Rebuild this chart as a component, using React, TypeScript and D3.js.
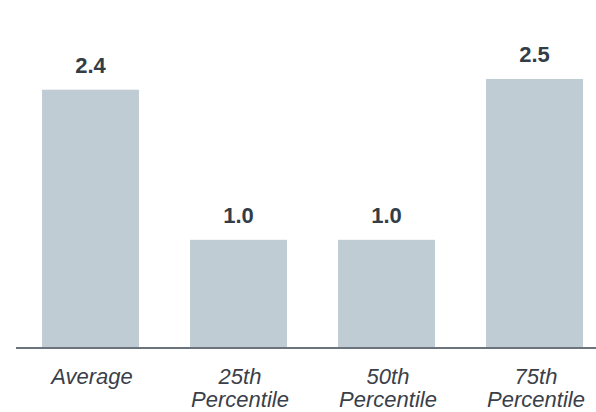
import React from "react";
import * as d3 from "d3";

const categories = ["Average", "25th Percentile", "50th Percentile", "75th Percentile"];
const categoryLines = [["Average"], ["25th", "Percentile"], ["50th", "Percentile"], ["75th", "Percentile"]];
const values = [2.4, 1.0, 1.0, 2.5];
const valueLabels = ["2.4", "1.0", "1.0", "2.5"];

const W = 596;
const H = 412;

export default function App() {
  const x = d3
    .scaleBand<string>()
    .domain(categories)
    .range([16.5, 608.5])
    .paddingInner(0.345)
    .paddingOuter(0.1725);
  const y = d3.scaleLinear().domain([0, 2.5]).range([347, 79]);
  const font = "Arial, 'Liberation Sans', sans-serif";

  return (
    <svg
      width={W}
      height={H}
      style={{ position: "absolute", left: 0, top: 0, background: "#fff" }}
      fontFamily={font}
    >
      {categories.map((c, i) => {
        const bx = x(c)!;
        const bw = x.bandwidth();
        const cx = bx + bw / 2;
        return (
          <g key={c}>
            <rect x={bx} y={y(values[i])} width={bw} height={y(0) - y(values[i])} fill="#c0ccd3" />
            <text
              x={cx}
              y={y(values[i]) - 17}
              textAnchor="middle"
              fontWeight="bold"
              fontSize={22}
              fill="#333d47"
            >
              {valueLabels[i]}
            </text>
            <text x={cx + 1.5} y={384} textAnchor="middle" fontStyle="italic" fontSize={22} fill="#3a4049">
              {categoryLines[i].map((ln, j) => (
                <tspan key={j} x={cx + 1.5} dy={j === 0 ? 0 : 23}>
                  {ln}
                </tspan>
              ))}
            </text>
          </g>
        );
      })}
      <line x1={16} x2={W} y1={348} y2={348} stroke="#3a4450" strokeWidth={1.5} />
    </svg>
  );
}
